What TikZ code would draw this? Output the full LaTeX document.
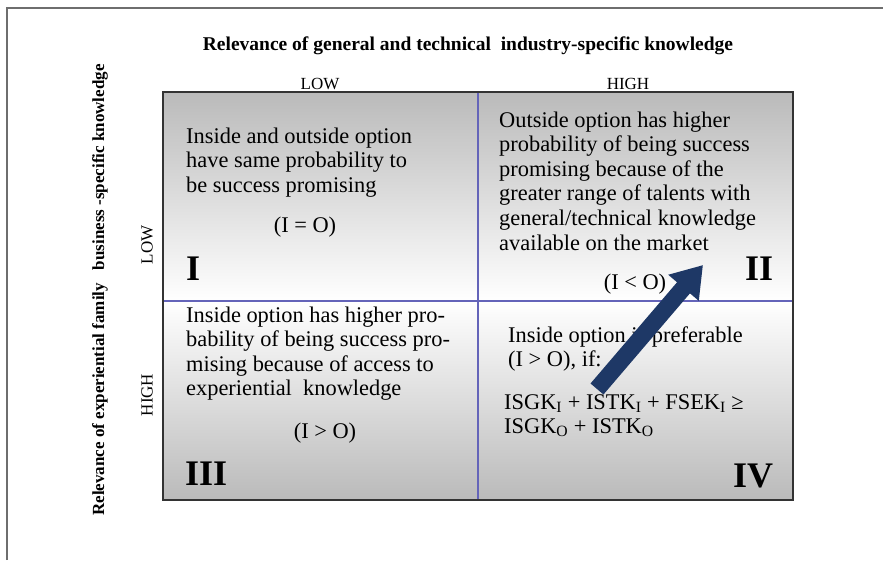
\documentclass[tikz,border=0pt]{standalone}
\usepackage{fontspec}
\setmainfont{Liberation Serif}
\usetikzlibrary{arrows.meta}
\definecolor{qgray}{RGB}{186,186,186}
\definecolor{divblue}{RGB}{100,100,185}
\definecolor{arrblue}{RGB}{30,56,102}
\definecolor{framegray}{RGB}{110,110,110}
\tikzset{
  qtext/.style={anchor=base west, inner sep=0pt, align=left, font=\fontsize{22.4}{24.6}\selectfont},
  rel/.style={anchor=base, inner sep=0pt, font=\fontsize{22.4}{24.6}\selectfont},
  roman/.style={anchor=base west, inner sep=0pt, font=\fontsize{36}{36}\selectfont\bfseries},
  axis/.style={inner sep=0pt, font=\fontsize{17}{17}\selectfont},
  axtitle/.style={inner sep=0pt, font=\fontsize{17}{17}\selectfont\bfseries},
  divider/.style={draw=divblue, line width=1.1pt},
  bigarrow/.style={draw=arrblue, line width=17pt, -{Triangle[width=38pt,length=30pt]}, color=arrblue}
}
\begin{document}
\begin{tikzpicture}[x=1pt,y=-1pt]
\useasboundingbox (0,0) rectangle (883,560);
\fill[white] (0,0) rectangle (883,560);
\draw[framegray, line width=2pt] (7,560) -- (7,7.5) -- (883,7.5);
% shading
\shade[top color=qgray, bottom color=white] (163,92) rectangle (793,301);
\shade[top color=white, bottom color=qgray] (163,301) rectangle (793,500);
\draw[divider] (478,92) -- (478,500);
\draw[divider] (163,301) -- (793,301);
\draw[black!80, line width=1.5pt] (163,92) rectangle (793,500);
% titles
\node[axtitle, anchor=base, font=\fontsize{19.5}{19.5}\selectfont\bfseries] (title) at (468,50) {Relevance of general and technical\ \ industry-specific knowledge};
\node[axis, anchor=base] (lowx) at (320,89) {LOW};
\node[axis, anchor=base] (highx) at (628,89) {HIGH};
\node[axtitle, rotate=90] (ytitle) at (100,290) {Relevance of experiential family\ \ \ business -specific knowledge};
\node[axis, rotate=90] (lowy) at (147,245) {LOW};
\node[axis, rotate=90] (highy) at (147,395) {HIGH};
% quadrant I
\node[qtext] (t1) at (186,192.2) {Inside and outside option\\have same probability to\\be success promising};
\node[rel] (r1) at (305,232) {(I = O)};
\node[roman] (q1) at (186,280) {I};
% quadrant II
\node[qtext] (t2) at (499,250) {Outside option has higher\\probability of being success\\promising because of the\\greater range of talents with\\general/technical knowledge\\available on the market};
\node[rel] (r2) at (635,289) {(I < O)};
\node[roman] (q2) at (745,280) {II};
% quadrant III
\node[qtext] (t3) at (186,395.8) {Inside option has higher pro-\\bability of being success pro-\\mising because of access to\\experiential\ \ knowledge};
\node[rel] (r3) at (325,438) {(I > O)};
\node[roman] (q3) at (185,485) {III};
% quadrant IV
\node[qtext] (t4) at (508,366.6) {Inside option is preferable\\(I > O), if:};
\node[qtext] (f4) at (504,433.6) {ISGK\textsubscript{I} + ISTK\textsubscript{I} + FSEK\textsubscript{I} ≥\\ISGK\textsubscript{O} + ISTK\textsubscript{O}};
\node[roman] (q4) at (733,487) {IV};
% arrow
\coordinate (atail) at (597,389);
\coordinate (atip) at (703,265);
\draw[bigarrow] (atail) -- (atip);
\end{tikzpicture}
\end{document}
